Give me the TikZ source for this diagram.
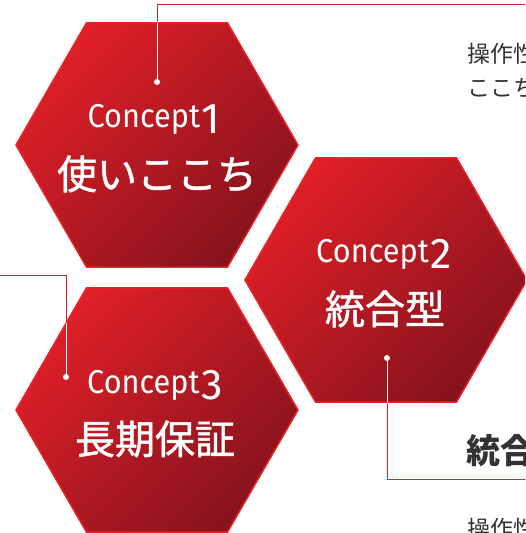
\documentclass[tikz,border=0pt]{standalone}
\usepackage{fontspec}
\setmainfont{Fira Sans}
\newfontfamily\jpfont{Noto Sans CJK JP}
\newfontfamily\jpmed[FakeBold=1.2]{Noto Sans CJK JP}
\usetikzlibrary{shapes.geometric}
\definecolor{hexlight}{HTML}{E01F27}
\definecolor{hexdark}{HTML}{86131D}
\definecolor{hexedge}{HTML}{EA2129}
\definecolor{linered}{HTML}{E61E28}
\definecolor{bodytxt}{HTML}{333333}
\newcommand{\conceptword}[1]{\raisebox{6pt}{\scalebox{0.93}[1]{\fontsize{33}{36}\selectfont Concept}}\,{\fontsize{43}{44}\selectfont #1}}
\begin{document}
\begin{tikzpicture}[x=1pt,y=-1pt,
  hexa/.style={regular polygon, regular polygon sides=6, minimum size=282pt,
    inner sep=0pt, draw=hexedge, line width=1.5pt,
    top color=hexlight, bottom color=hexdark, shading angle=45},
  conlabel/.style={anchor=base, text=white, inner sep=0pt},
  jplabel/.style={anchor=base, text=white, inner sep=0pt, font=\jpmed\fontsize{40}{44}\selectfont},
  bodytext/.style={anchor=base west, text=bodytxt, inner sep=0pt,
    font=\jpfont\fontsize{23}{33}\selectfont},
  headtext/.style={anchor=base west, text=bodytxt, inner sep=0pt,
    font=\jpfont\bfseries\fontsize{34}{36}\selectfont},
  redline/.style={draw=linered, line width=1pt},
  whiteline/.style={draw=white, line width=1pt},
  dotmark/.style={circle, fill=white, inner sep=0pt, minimum size=6pt}
]
\useasboundingbox (0,0) rectangle (525,533);
\clip (0,0) rectangle (525,533);

% hexagons
\node[hexa] (hex1) at (157,145) {};
\node[hexa] (hex2) at (386,280) {};
\node[hexa] (hex3) at (157,410) {};

% labels
\node[conlabel] (c1) at (154,133) {\conceptword{1}};
\node[jplabel] (j1) at (157,189) {使いここち};
\node[conlabel] (c2) at (384,268) {\conceptword{2}};
\node[jplabel] (j2) at (385,324) {統合型};
\node[conlabel] (c3) at (155,399) {\conceptword{3}};
\node[jplabel] (j3) at (155,454) {長期保証};

% right side texts
\node[bodytext] (t1) at (467,62) {操作性の高さ};
\node[bodytext] (t1b) at (467,96) {ここちよさ};
\node[headtext] (t2) at (466,463) {統合型};
\node[bodytext] (t3) at (467,537) {操作性};

% connector 1
\node[dotmark] (d1) at (157,82) {};
\coordinate (k1) at (157,4);
\coordinate (e1) at (540,4);
\draw[redline] (e1) -- (k1) -- (d1 |- hex1.north);
\draw[whiteline] (d1 |- hex1.north) -- (d1.center);

% connector 3 (Concept3)
\node[dotmark] (d3) at (66,377) {};
\coordinate (k3) at (66,275);
\coordinate (s3) at (-5,275);
\coordinate (x3) at (66,323);
\draw[redline] (s3) -- (k3) -- (x3);
\draw[whiteline] (x3) -- (d3.center);

% connector 2
\node[dotmark] (d2) at (387,358) {};
\coordinate (k2) at (387,479);
\coordinate (e2) at (540,479);
\draw[whiteline] (d2.center) -- (d2 |- hex2.south);
\draw[redline] (d2 |- hex2.south) -- (k2) -- (e2);
\end{tikzpicture}
\end{document}
